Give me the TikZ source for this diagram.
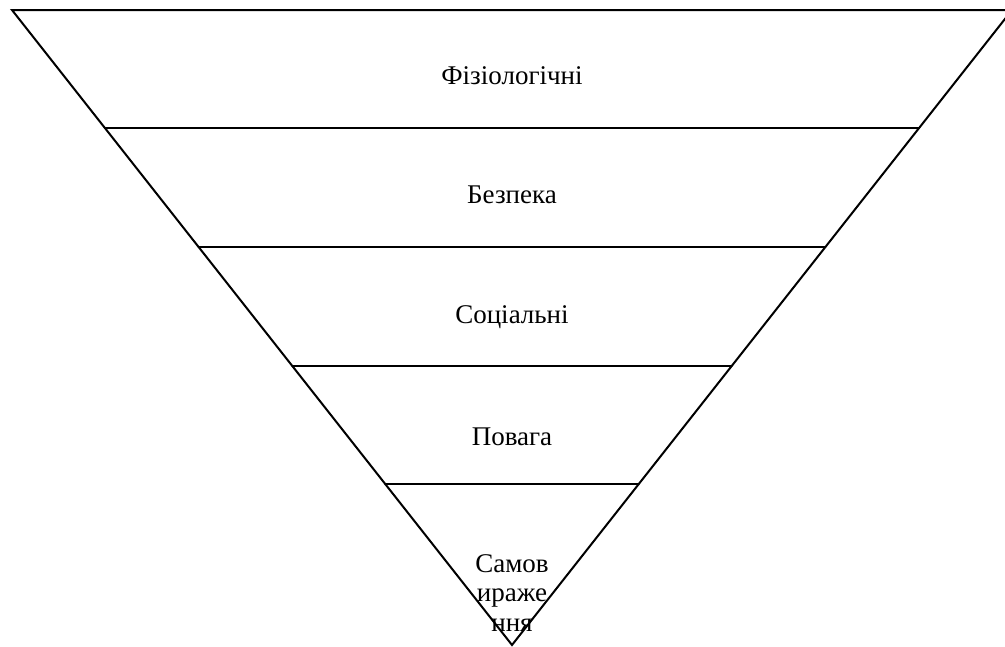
\documentclass[tikz,border=0pt]{standalone}
\usepackage{fontspec}
\setmainfont{Liberation Serif}
\begin{document}
\begin{tikzpicture}[x=1pt,y=-1pt,
  edge/.style={line width=2pt,line cap=round,line join=miter},
  lbl/.style={font=\fontsize{27}{29.5}\selectfont,inner sep=0pt,align=center}]
\useasboundingbox (0,0) rectangle (1005,646);
\clip (0,0) rectangle (1005,646);
\coordinate (tl) at (12,10);
\coordinate (tr) at (1012,10);
\coordinate (ap) at (512,645);
\draw[edge] (tl) -- (tr) -- (ap) -- cycle;
\foreach \y/\n in {128/a,247/b,366/c,484/d}{
  \pgfmathsetmacro{\dx}{(\y-10)/635*500}
  \coordinate (l\n) at ({12+\dx},\y);
  \coordinate (r\n) at ({1012-\dx},\y);
  \draw[edge] (l\n) -- (r\n);
}
\node[lbl] (t1) at (512,76) {Фізіологічні};
\node[lbl] (t2) at (512,195) {Безпека};
\node[lbl] (t3) at (512,317) {Соціальні};
\node[lbl] (t4) at (512,437) {Повага};
\node[lbl] (t5) at (512,593) {Самов\\ираже\\ння};
\end{tikzpicture}
\end{document}
